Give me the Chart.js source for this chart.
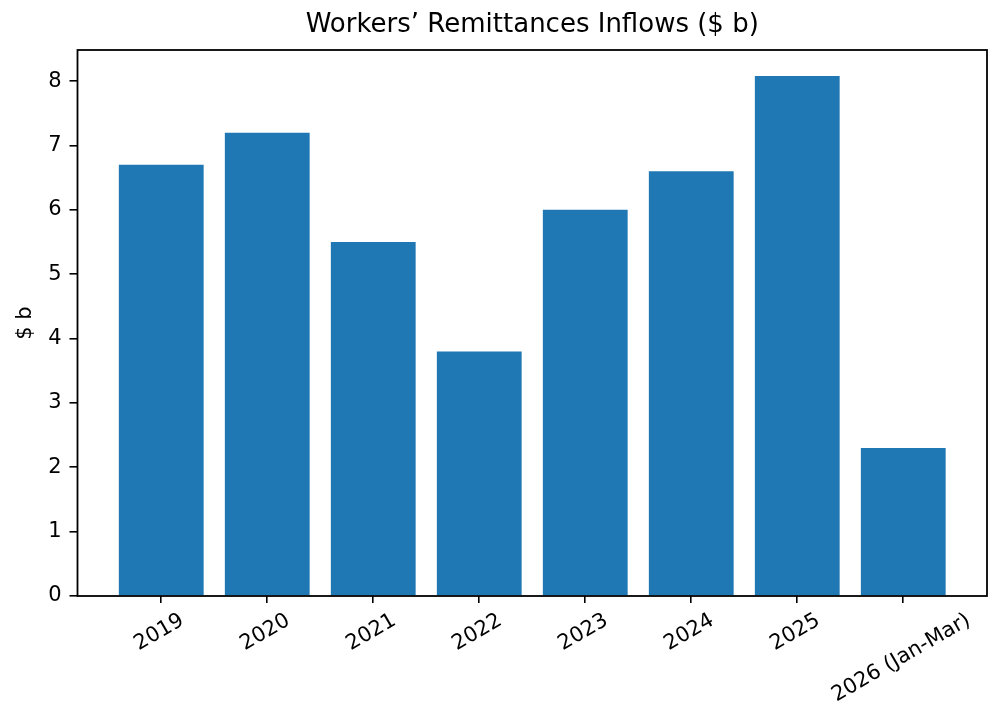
<!DOCTYPE html>
<html>
<head>
<meta charset="utf-8">
<script src="https://cdn.jsdelivr.net/npm/chart.js@4/dist/chart.umd.min.js"></script>
<style>
  html, body { margin: 0; padding: 0; background: #fff; }
  canvas { display: block; }
</style>
</head>
<body>
<canvas id="chart" width="1000" height="723"></canvas>
<script>
  // data
  const categories = ['2019', '2020', '2021', '2022', '2023', '2024', '2025', '2026 (Jan-Mar)'];
  const remittances = [6.7, 7.2, 5.5, 3.8, 6.0, 6.6, 8.08, 2.3];
  const yTicks = [0, 1, 2, 3, 4, 5, 6, 7, 8];

  const BLUE = '#1f77b4';
  const FONT = 'DejaVu Sans';
  const TICK_SIZE = 21;

  // frame around the plot area, drawn over the bars like matplotlib spines
  const framePlugin = {
    id: 'frame',
    afterDatasetsDraw(chart) {
      const a = chart.chartArea;
      const ctx = chart.ctx;
      ctx.save();
      ctx.strokeStyle = '#000';
      ctx.lineWidth = 1.8;
      ctx.strokeRect(a.left, a.top, a.right - a.left, a.bottom - a.top);
      ctx.restore();
    }
  };

  // rotated x labels, centred under their tick (Chart.js right-aligns rotated labels)
  const xLabelPlugin = {
    id: 'xlabels',
    afterDraw(chart) {
      const sx = chart.scales.x;
      const ctx = chart.ctx;
      const rot = 30 * Math.PI / 180;
      ctx.save();
      ctx.font = TICK_SIZE + 'px "' + FONT + '"';
      ctx.fillStyle = '#000';
      ctx.textAlign = 'center';
      ctx.textBaseline = 'middle';
      categories.forEach(function (label, i) {
        const w = ctx.measureText(label).width;
        const bboxH = w * Math.sin(rot) + TICK_SIZE * Math.cos(rot);
        const cx = sx.getPixelForValue(i) - 2;
        const cy = chart.chartArea.bottom + 14 + bboxH / 2;
        ctx.save();
        ctx.translate(cx, cy);
        ctx.rotate(-rot);
        ctx.fillText(label, 0, 0);
        ctx.restore();
      });
      ctx.restore();
    }
  };

  const maxVal = Math.max.apply(null, remittances);

  new Chart(document.getElementById('chart'), {
    type: 'bar',
    data: {
      datasets: [{
        label: '$ b',
        data: remittances.map(function (v, i) { return { x: i, y: v }; }),
        backgroundColor: BLUE,
        borderWidth: 0,
        barPercentage: 0.8,
        categoryPercentage: 1.0
      }]
    },
    options: {
      responsive: false,
      animation: false,
      devicePixelRatio: 1,
      layout: { padding: { left: 0, right: 13, top: 0, bottom: 0 } },
      plugins: {
        legend: { display: false },
        tooltip: { enabled: false },
        title: {
          display: true,
          fullSize: false,
          text: 'Workers\u2019 Remittances Inflows ($ b)',
          color: '#000',
          font: { family: FONT, size: 26, weight: 'normal', lineHeight: 1.2 },
          padding: { top: 10, bottom: 8.8 }
        }
      },
      scales: {
        x: {
          type: 'linear',
          offset: false,
          min: -0.79,
          max: categories.length - 1 + 0.79,
          grid: {
            display: true,
            offset: false,
            drawOnChartArea: false,
            drawTicks: true,
            tickLength: 7,
            color: '#000',
            lineWidth: 1.6
          },
          border: { display: false },
          ticks: {
            display: false,
            stepSize: 1,
            autoSkip: false,
            includeBounds: false
          },
          afterFit(scale) { scale.height = 127; }
        },
        y: {
          type: 'linear',
          min: 0,
          max: maxVal * 1.05,
          grid: {
            display: true,
            drawOnChartArea: false,
            drawTicks: true,
            tickLength: 8,
            color: '#000',
            lineWidth: 1.6
          },
          border: { display: false },
          afterBuildTicks(scale) {
            scale.ticks = yTicks.map(function (v) { return { value: v }; });
          },
          ticks: {
            color: '#000',
            padding: 8,
            font: { family: FONT, size: TICK_SIZE }
          },
          title: {
            display: true,
            text: '$ b',
            color: '#000',
            font: { family: FONT, size: 21, lineHeight: 1.2 },
            padding: { top: 13, bottom: 0 }
          },
          afterFit(scale) { scale.width = 77.5; }
        }
      }
    },
    plugins: [framePlugin, xLabelPlugin]
  });
</script>
</body>
</html>
